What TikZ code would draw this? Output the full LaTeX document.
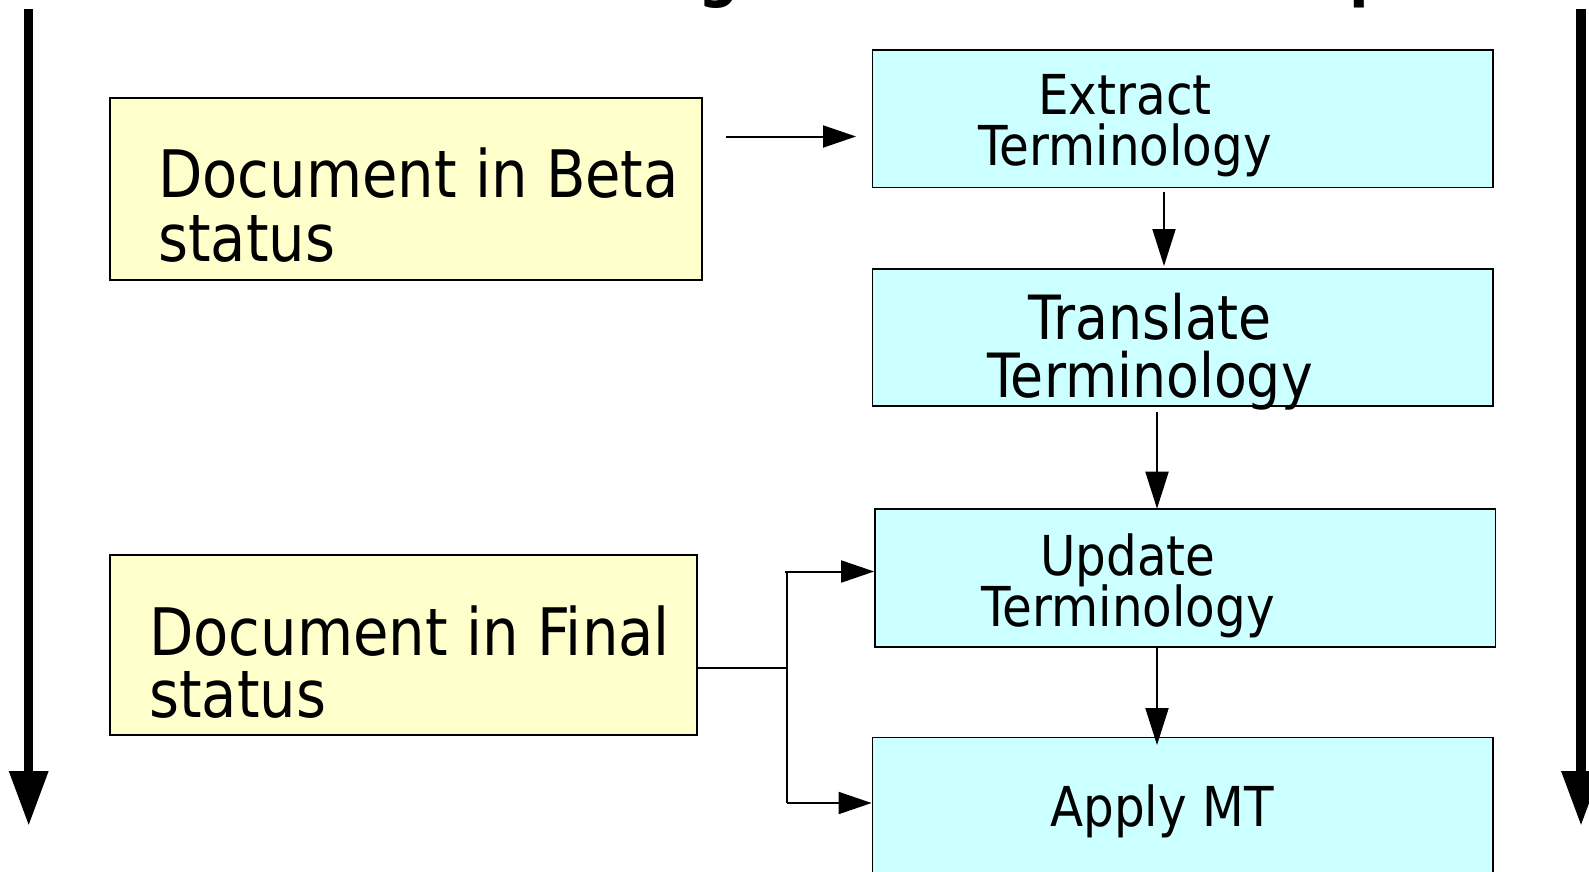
\documentclass[tikz,border=0pt]{standalone}
\usepackage{fontspec}
\setmainfont{DejaVu Sans}[FakeStretch=0.88]
\usetikzlibrary{arrows.meta}
\definecolor{docfill}{HTML}{FFFFCC}
\definecolor{stepfill}{HTML}{CCFFFF}
\begin{document}
\begin{tikzpicture}[x=1pt,y=-1pt,
  docbox/.style={draw, line width=2pt, fill=docfill, rectangle, inner sep=0pt},
  stepbox/.style={draw, line width=1.8pt, fill=stepfill, rectangle, inner sep=0pt},
  doctext/.style={anchor=base west, inner sep=0pt, font=\fontsize{65.5}{63}\selectfont},
  steptext/.style={anchor=base, inner sep=0pt, font=\fontsize{55}{51}\selectfont},
  bigtext/.style={anchor=base, inner sep=0pt, font=\fontsize{61}{58}\selectfont},
  titletext/.style={inner sep=0pt, font=\fontsize{65}{65}\selectfont\bfseries},
  link/.style={line width=2pt},
  flow/.style={line width=2pt, -{Triangle[length=33pt,width=22pt]}},
  vflow/.style={line width=2pt, -{Triangle[length=37pt,width=23pt]}},
  bigflow/.style={line width=9.5pt, -{Triangle[length=55pt,width=37pt]}},
]
\useasboundingbox (0,0) rectangle (1589,872);

% heading line, mostly above the page edge
\begin{scope}
  \clip (0,0) rectangle (1589,872);
  \node[titletext, anchor=base] (titleG) at (719,-5) {g};
  \node[titletext, anchor=base west] (titleP) at (1349,-5.5) {p};
\end{scope}

% time axes on both sides
\coordinate (leftTop) at (28.7,9);
\coordinate (leftEnd) at (28.7,826);
\coordinate (rightTop) at (1581,9);
\coordinate (rightEnd) at (1581,826);
\draw[bigflow] (leftTop) -- (leftEnd);
\draw[bigflow] (rightTop) -- (rightEnd);

% document states
\node[docbox, minimum width=592.5pt, minimum height=182pt] (beta) at (405.75,189) {};
\node[doctext] (betaA) at (158,197.6) {Document in Beta};
\node[doctext] (betaB) at (158,261.5) {status};

\node[docbox, minimum width=587.5pt, minimum height=180pt] (final) at (403.25,645) {};
\node[doctext] (finalA) at (149,655.7) {Document in Final};
\node[doctext] (finalB) at (149,717.5) {status};

% terminology steps
\node[stepbox, minimum width=620.5pt, minimum height=137.8pt] (extract) at (1182.75,118.6) {};
\node[steptext] (extractA) at (1125,114.5) {Extract};
\node[steptext] (extractB) at (1125,165) {Terminology};

\node[stepbox, minimum width=620.5pt, minimum height=137.5pt] (translate) at (1182.75,337.6) {};
\node[bigtext] (translateA) at (1150,339.5) {Translate};
\node[bigtext] (translateB) at (1150,397) {Terminology};

\node[stepbox, minimum width=620.5pt, minimum height=138pt] (update) at (1185.25,578) {};
\node[steptext] (updateA) at (1128,575.6) {Update};
\node[steptext] (updateB) at (1128,626) {Terminology};

\node[stepbox, minimum width=620.5pt, minimum height=138pt] (apply) at (1182.75,806.5) {};
\node[steptext] (applyA) at (1162,826) {Apply MT};

% connectors
\coordinate (betaOut) at (725.6,136.5);
\coordinate (extractIn) at (856,136.5);
\draw[flow] (betaOut) -- (extractIn);

\coordinate (extractOut) at (1164,191.5);
\coordinate (translateIn) at (1164,266);
\draw[vflow] (extractOut) -- (translateIn);

\coordinate (translateOut) at (1157,411.5);
\coordinate (updateIn) at (1157,508.7);
\draw[vflow] (translateOut) -- (updateIn);

\coordinate (updateOut) at (1157,647);
\coordinate (applyIn) at (1157,745);
\draw[vflow] (updateOut) -- (applyIn);

\coordinate (finalOut) at (697,668);
\coordinate (fork) at (787.4,668);
\coordinate (forkTop) at (787.4,571.5);
\coordinate (forkBot) at (787.4,803);
\draw[link] (finalOut) -- (fork);
\draw[link] (forkTop) -- (forkBot);
\draw[flow] ([xshift=-2pt]forkTop) -- (update.west |- forkTop);
\draw[flow] (forkBot) -- (apply.west |- forkBot);
\end{tikzpicture}
\end{document}
